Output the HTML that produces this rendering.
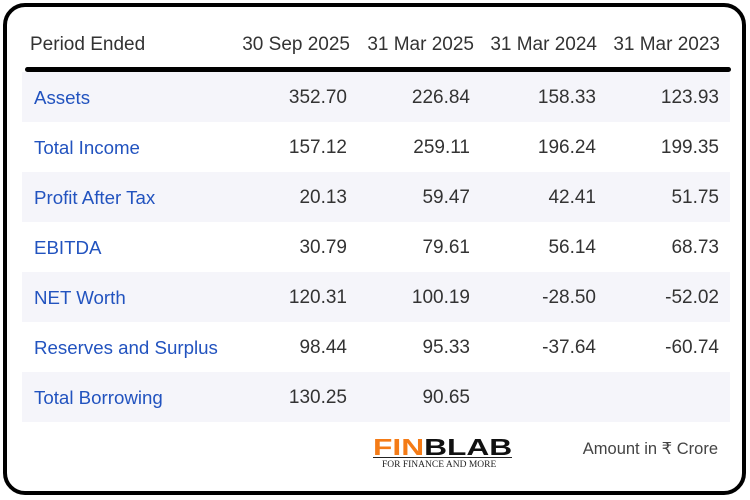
<!DOCTYPE html>
<html><head><meta charset="utf-8">
<style>
html,body{margin:0;padding:0;background:#fff;}
body{width:750px;height:500px;position:relative;overflow:hidden;font-family:"Liberation Sans",sans-serif;}
.frame{position:absolute;left:3px;top:3px;width:735px;height:484px;border:4.5px solid #000;border-radius:22px;}
.stripe{position:absolute;left:22px;width:708px;height:50px;background:#f5f5fa;}
.t{position:absolute;height:50px;line-height:50px;font-size:19px;white-space:nowrap;}
.lab{color:#2253bf;left:34px;font-size:18.7px;}
.v{color:#333;text-align:right;width:120px;}
.v,.lab{margin-top:1px;}
.h{color:#333;margin-top:0;}
.rule{position:absolute;left:25px;width:706px;top:67px;height:4.5px;background:#000;border-radius:3px;}
</style></head><body>
<div class="frame"></div>

<div class="t h" style="left:30px;top:20px;">Period Ended</div>
<div class="t v h" style="left:230px;top:20px;">30 Sep 2025</div>
<div class="t v h" style="left:354px;top:20px;">31 Mar 2025</div>
<div class="t v h" style="left:477px;top:20px;">31 Mar 2024</div>
<div class="t v h" style="left:600px;top:20px;">31 Mar 2023</div>
<div class="rule"></div>

<div class="stripe" style="top:72px"></div>
<div class="stripe" style="top:172px"></div>
<div class="stripe" style="top:272px"></div>
<div class="stripe" style="top:372px"></div>

<div class="t lab" style="top:72px">Assets</div>
<div class="t v" style="left:227px;top:72px">352.70</div>
<div class="t v" style="left:350px;top:72px">226.84</div>
<div class="t v" style="left:476px;top:72px">158.33</div>
<div class="t v" style="left:599px;top:72px">123.93</div>

<div class="t lab" style="top:122px">Total Income</div>
<div class="t v" style="left:227px;top:122px">157.12</div>
<div class="t v" style="left:350px;top:122px">259.11</div>
<div class="t v" style="left:476px;top:122px">196.24</div>
<div class="t v" style="left:599px;top:122px">199.35</div>

<div class="t lab" style="top:172px">Profit After Tax</div>
<div class="t v" style="left:227px;top:172px">20.13</div>
<div class="t v" style="left:350px;top:172px">59.47</div>
<div class="t v" style="left:476px;top:172px">42.41</div>
<div class="t v" style="left:599px;top:172px">51.75</div>

<div class="t lab" style="top:222px">EBITDA</div>
<div class="t v" style="left:227px;top:222px">30.79</div>
<div class="t v" style="left:350px;top:222px">79.61</div>
<div class="t v" style="left:476px;top:222px">56.14</div>
<div class="t v" style="left:599px;top:222px">68.73</div>

<div class="t lab" style="top:272px">NET Worth</div>
<div class="t v" style="left:227px;top:272px">120.31</div>
<div class="t v" style="left:350px;top:272px">100.19</div>
<div class="t v" style="left:476px;top:272px">-28.50</div>
<div class="t v" style="left:599px;top:272px">-52.02</div>

<div class="t lab" style="top:322px">Reserves and Surplus</div>
<div class="t v" style="left:227px;top:322px">98.44</div>
<div class="t v" style="left:350px;top:322px">95.33</div>
<div class="t v" style="left:476px;top:322px">-37.64</div>
<div class="t v" style="left:599px;top:322px">-60.74</div>

<div class="t lab" style="top:372px">Total Borrowing</div>
<div class="t v" style="left:227px;top:372px">130.25</div>
<div class="t v" style="left:350px;top:372px">90.65</div>

<div style="position:absolute;left:373px;top:434px;font-weight:bold;font-size:23.5px;line-height:27px;white-space:nowrap;transform-origin:0 0;transform:scaleX(1.35);"><span style="color:#f47b16">FIN</span><span style="color:#111">BLAB</span></div>
<div style="position:absolute;left:373px;top:456.5px;width:139px;height:1.5px;background:#222;"></div>
<div style="position:absolute;left:382px;top:459px;font-family:'Liberation Serif',serif;font-size:9.5px;line-height:12px;color:#222;white-space:nowrap;">FOR FINANCE AND MORE</div>

<div style="position:absolute;left:518px;width:200px;top:436px;height:26px;line-height:26px;text-align:right;font-size:16.5px;color:#444;white-space:nowrap;">Amount in ₹ Crore</div>
</body></html>
